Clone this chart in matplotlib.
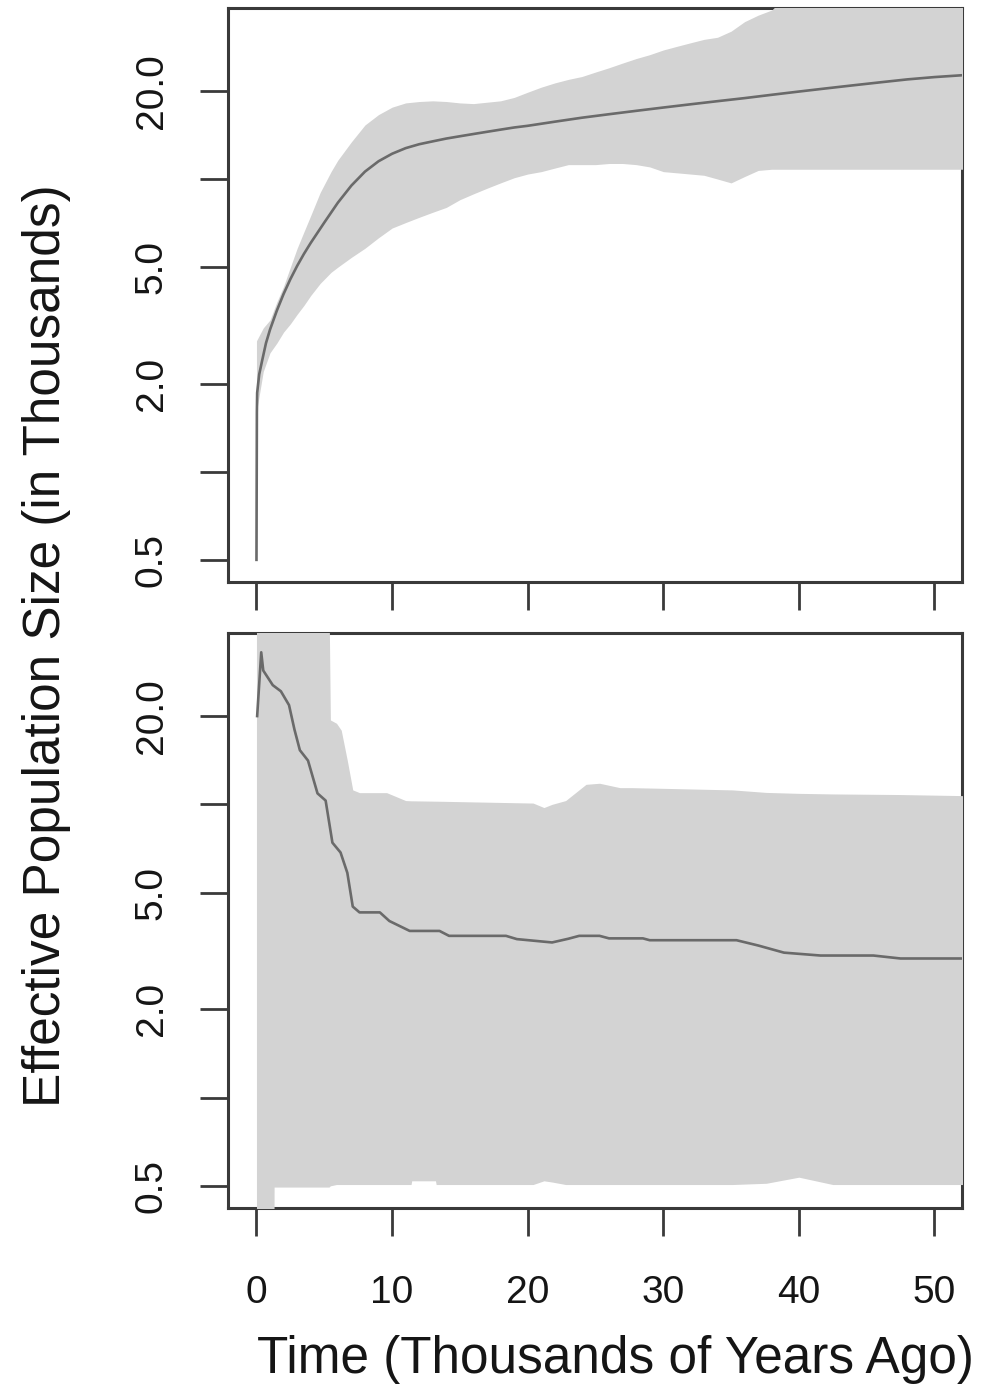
import matplotlib
matplotlib.use("Agg")
import matplotlib.pyplot as plt
from matplotlib.ticker import FixedLocator, FixedFormatter, NullLocator

plt.rcParams['font.family'] = ['Liberation Sans', 'DejaVu Sans']

# ---------------- data (thousands of years ago / effective size in thousands)
# top panel: median
top_med_time = [0, 0.03, 0.05, 0.2, 0.42, 0.7, 1.0, 1.5, 2.0, 2.5, 3.0, 3.5, 4.0,
                5.0, 6.0, 7.0, 8.0, 9.0, 10, 11, 12, 13, 14, 15, 16, 17, 18, 19,
                20, 22, 24, 26, 28, 30, 32, 34, 36, 38, 40, 42, 44, 46, 48, 50, 52.5]
top_median = [0.5, 1.6, 1.86, 2.15, 2.4, 2.75, 3.06, 3.55, 4.05, 4.55, 5.05, 5.55, 6.05,
              7.1, 8.3, 9.5, 10.6, 11.5, 12.2, 12.75, 13.15, 13.45, 13.75, 14.0, 14.25,
              14.5, 14.75, 15.0, 15.2, 15.7, 16.2, 16.65, 17.1, 17.55, 18.0, 18.45,
              18.9, 19.4, 19.9, 20.4, 20.9, 21.4, 21.9, 22.3, 22.7]
# top panel: credible band
top_band_time = [0, 0.5, 1.0, 1.5, 2.0, 2.5, 3.0, 3.5, 4.0, 4.7, 5.5, 6.0, 7.0, 8.0, 9.0, 10,
                 11, 12, 13, 14, 15, 16, 17, 18, 19, 20,
                 21, 22, 23, 24, 25, 26, 27, 28, 29, 30,
                 31, 32, 33, 34, 35, 36, 37, 38, 39, 40,
                 42, 44, 46, 48, 50, 52.5]
top_upper = [2.8, 3.1, 3.3, 3.8, 4.3, 5.0, 5.8, 6.6, 7.5, 9.0, 10.6, 11.6, 13.4, 15.3, 16.6, 17.6,
             18.2, 18.4, 18.5, 18.4, 18.2, 18.1, 18.3, 18.5, 19.0, 19.8,
             20.6, 21.3, 21.9, 22.4, 23.2, 24.0, 24.9, 25.8, 26.6, 27.6,
             28.4, 29.2, 30.0, 30.5, 32.0, 34.5, 36.3, 37.8, 42, 45,
             45, 45, 45, 45, 45, 45]
top_lower = [1.6, 2.2, 2.55, 2.75, 3.0, 3.2, 3.45, 3.7, 4.0, 4.4, 4.8, 5.0, 5.4, 5.8, 6.3, 6.8,
             7.1, 7.4, 7.7, 8.0, 8.5, 8.9, 9.3, 9.7, 10.1, 10.4,
             10.6, 10.9, 11.2, 11.2, 11.2, 11.3, 11.3, 11.2, 11.0, 10.6,
             10.5, 10.4, 10.3, 10.0, 9.7, 10.2, 10.7, 10.8, 10.8, 10.8,
             10.8, 10.8, 10.8, 10.8, 10.8, 10.8]

# bottom panel: median
bot_med_time = [0.05, 0.35, 0.5, 1.2, 1.8, 2.4, 2.8, 3.2, 3.8, 4.5, 5.1, 5.6, 6.2, 6.7,
                7.1, 7.6, 9.1, 9.8, 11.3, 13.5, 14.2, 18.4, 19.2, 21.8, 23.0, 23.8,
                25.3, 26.0, 28.5, 29.0, 35.4, 37.0, 38.9, 41.6, 45.5, 47.5, 52.5]
bot_median = [20, 33, 28.6, 25.5, 24.3, 21.8, 18.0, 15.3, 14.1, 10.9, 10.3, 7.4, 6.85, 5.84,
              4.48, 4.28, 4.28, 4.0, 3.70, 3.70, 3.56, 3.56, 3.47, 3.38, 3.48, 3.56,
              3.56, 3.49, 3.49, 3.44, 3.44, 3.3, 3.12, 3.05, 3.05, 2.98, 2.98]
# bottom panel: credible band
bot_band_time = [0.0, 1.29, 1.3, 5.35, 5.45, 5.9, 6.25, 6.7, 7.1, 7.6,
                 9.6, 11.0, 11.4, 11.45, 13.2, 13.25, 20.4, 21.2, 21.8, 22.8,
                 24.3, 25.3, 26.8, 27.7, 35.1, 37.6, 40.0, 42.5, 47.4, 52.5]
bot_upper = [50, 50, 50, 50, 19.4, 18.9, 17.9, 14.1, 11.2, 10.96,
             10.96, 10.3, 10.28, 10.28, 10.25, 10.25, 10.1, 9.75, 10.0, 10.3,
             11.7, 11.8, 11.4, 11.4, 11.2, 10.98, 10.9, 10.85, 10.8, 10.7]
bot_lower = [0.3, 0.3, 0.495, 0.495, 0.5, 0.505, 0.505, 0.505, 0.505, 0.505,
             0.505, 0.505, 0.505, 0.52, 0.52, 0.505, 0.505, 0.52, 0.515, 0.505,
             0.505, 0.505, 0.505, 0.505, 0.505, 0.51, 0.535, 0.505, 0.505, 0.505]

y_ticks = [0.5, 1, 2, 5, 10, 20]
y_tick_labels = ["0.5", "", "2.0", "5.0", "", "20.0"]
x_ticks = [0, 10, 20, 30, 40, 50]
x_tick_labels = ["0", "10", "20", "30", "40", "50"]
x_label = "Time (Thousands of Years Ago)"
y_label = "Effective Population Size (in Thousands)"

# ---------------- style
W, H = 990, 1385
band_color = "#d3d3d3"
line_color = "#6a6a6a"
frame_color = "#3a3a3a"
text_color = "#151515"
tick_fs = 28
label_fs = 37

fig = plt.figure(figsize=(W / 100, H / 100), dpi=100)
fig.patch.set_facecolor("white")


def px_axes(left, top, right, bottom):
    return fig.add_axes([left / W, 1 - bottom / H, (right - left) / W, (bottom - top) / H])


ax_top = px_axes(228, 8, 962, 582)
ax_bot = px_axes(228, 633, 962, 1208)

panels = [
    (ax_top, top_band_time, top_lower, top_upper, top_med_time, top_median, False),
    (ax_bot, bot_band_time, bot_lower, bot_upper, bot_med_time, bot_median, True),
]

for ax, bt, lo, up, mt, md, show_x in panels:
    ax.set_yscale("log")
    ax.fill_between(bt, lo, up, color=band_color, linewidth=0, zorder=3)
    ax.plot(mt, md, color=line_color, linewidth=1.9, zorder=4, solid_joinstyle="round")
    ax.set_xlim(-2.1, 52.03)
    ax.set_ylim(0.42, 38.4)
    ax.yaxis.set_major_locator(FixedLocator(y_ticks))
    ax.yaxis.set_major_formatter(FixedFormatter(y_tick_labels))
    ax.yaxis.set_minor_locator(NullLocator())
    ax.xaxis.set_major_locator(FixedLocator(x_ticks))
    ax.xaxis.set_minor_locator(NullLocator())
    if show_x:
        ax.xaxis.set_major_formatter(FixedFormatter(x_tick_labels))
    else:
        ax.xaxis.set_major_formatter(FixedFormatter([""] * len(x_ticks)))
    for s in ax.spines.values():
        s.set_color(frame_color)
        s.set_linewidth(2.2)
        s.set_zorder(2.5)
    ax.tick_params(axis="both", direction="out", length=20, width=2.0,
                   color=frame_color, labelcolor=text_color, labelsize=tick_fs)
    ax.tick_params(axis="y", pad=22)
    ax.tick_params(axis="x", pad=28)
    for lab in ax.get_yticklabels():
        lab.set_rotation(90)
        lab.set_va("center")
    ax.set_facecolor("white")

fig.text(60 / W, 1 - 646 / H, y_label, rotation=90, rotation_mode="anchor",
         ha="center", va="baseline", fontsize=label_fs, color=text_color)
fig.text(615 / W, 1 - 1373 / H, x_label, ha="center", va="baseline",
         fontsize=label_fs, color=text_color)

fig.savefig("out.png", dpi=100, facecolor="white")
